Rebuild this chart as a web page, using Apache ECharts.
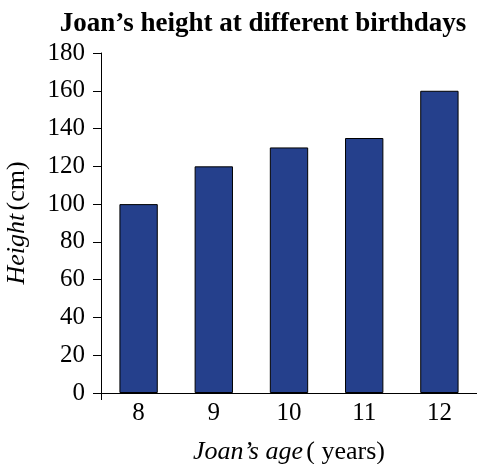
<!DOCTYPE html>
<html><head><meta charset="utf-8">
<script src="https://cdn.jsdelivr.net/npm/echarts@6/dist/echarts.min.js"></script>
<style>html,body{margin:0;padding:0;background:#fff}#c{width:477px;height:464px}</style>
</head><body><div id="c"></div>
<script>
const categories = ['8', '9', '10', '11', '12'];
const heights = [100, 120, 130, 135, 160];
const yTicks = [0, 20, 40, 60, 80, 100, 120, 140, 160, 180];

const F = '"Liberation Serif", "Times New Roman", serif';
const chart = echarts.init(document.getElementById('c'), null, {renderer: 'canvas'});
chart.setOption({
  animation: false,
  backgroundColor: '#fff',
  title: {
    text: 'Joan\u2019s height at different birthdays',
    left: 258, top: 6, textAlign: 'center',
    textStyle: {fontFamily: F, fontWeight: 'bold', fontSize: 27, color: '#000'}
  },
  grid: {left: 101, right: 0, top: 53, bottom: 71, containLabel: false, outerBoundsMode: 'none'},
  xAxis: {
    type: 'category', data: categories,
    axisLine: {lineStyle: {color: '#000', width: 1}},
    axisTick: {show: true, length: 7, interval: function(i){ return i === 0; }, lineStyle: {color: '#000'}},
    axisLabel: {fontFamily: F, fontSize: 25, color: '#000', margin: 8},
    name: '{i|Joan\u2019s age} {n|( years)}',
    nameLocation: 'middle', nameGap: 46,
    nameTextStyle: {rich: {
      i: {fontFamily: F, fontStyle: 'italic', fontSize: 26, color: '#000'},
      n: {fontFamily: F, fontSize: 26, color: '#000'}
    }}
  },
  yAxis: {
    type: 'value', min: yTicks[0], max: yTicks[yTicks.length - 1], interval: yTicks[1] - yTicks[0],
    splitLine: {show: false},
    axisLine: {show: true, lineStyle: {color: '#000', width: 1}},
    axisTick: {show: true, length: 8, lineStyle: {color: '#000'}},
    axisLabel: {fontFamily: F, fontSize: 25, color: '#000', margin: 16},
    name: '{i|Height} {n|(cm)}',
    nameLocation: 'middle', nameGap: 71, nameRotate: 90,
    nameTextStyle: {rich: {
      i: {fontFamily: F, fontStyle: 'italic', fontSize: 26, color: '#000'},
      n: {fontFamily: F, fontSize: 26, color: '#000'}
    }}
  },
  series: [{
    type: 'bar', data: heights, barWidth: '51%',
    itemStyle: {color: '#25408c', borderColor: '#000', borderWidth: 1}
  }]
});
</script></body></html>
